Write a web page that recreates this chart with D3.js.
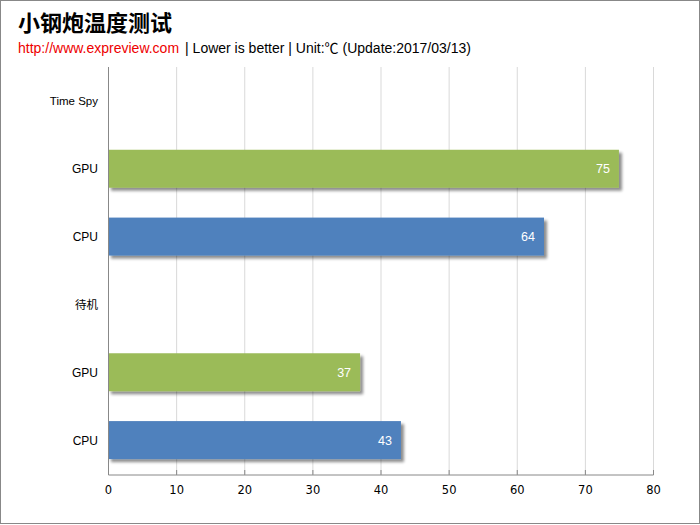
<!DOCTYPE html>
<html><head><meta charset="utf-8">
<script src="https://cdn.jsdelivr.net/npm/d3@7"></script>
<style>body{margin:0;background:#fff}</style>
</head><body>
<svg id="c" width="700" height="525"></svg>
<script>
const categories = ["Time Spy", "GPU", "CPU", "待机", "GPU", "CPU"];
const values = [null, 75, 64, null, 37, 43];
const kinds = ["header", "GPU", "CPU", "header", "GPU", "CPU"];
const xTicks = [0, 10, 20, 30, 40, 50, 60, 70, 80];
const colors = {GPU: "#9BBB59", CPU: "#4F81BD"};

const svg = d3.select("#c");
svg.append("rect").attr("x",0.5).attr("y",0.5).attr("width",699).attr("height",523)
  .attr("fill","#fff").attr("stroke","#888");

const defs = svg.append("defs");
const f = defs.append("filter").attr("id","sh").attr("x","-5%").attr("y","-20%").attr("width","115%").attr("height","160%");
f.append("feGaussianBlur").attr("in","SourceAlpha").attr("stdDeviation",1.5).attr("result","b");
f.append("feOffset").attr("in","b").attr("dx",3).attr("dy",3).attr("result","o");
f.append("feComponentTransfer").attr("in","o").attr("result","o2").append("feFuncA").attr("type","linear").attr("slope",0.45);
const m = f.append("feMerge"); m.append("feMergeNode").attr("in","o2"); m.append("feMergeNode").attr("in","SourceGraphic");

const L = 108, R = 653, T = 67, B = 474;
const x = d3.scaleLinear().domain([0,80]).range([L,R]);
const y = d3.scaleBand().domain(d3.range(categories.length)).range([T,B]).paddingInner(0.44).paddingOuter(0.22);

// grid
svg.append("g").selectAll("line").data(xTicks.slice(1)).join("line")
  .attr("x1",d=>x(d)+0.5).attr("x2",d=>x(d)+0.5).attr("y1",T).attr("y2",B)
  .attr("stroke","#d9d9d9");

// bars
const idx = d3.range(categories.length).filter(i=>values[i]!=null);
svg.append("g").selectAll("rect").data(idx).join("rect")
  .attr("x",L).attr("y",i=>y(i)).attr("width",i=>x(values[i])-L).attr("height",y.bandwidth())
  .attr("fill",i=>colors[kinds[i]]).attr("filter","url(#sh)");

svg.append("g").selectAll("text").data(idx).join("text")
  .attr("x",i=>x(values[i])-9).attr("y",i=>y(i)+y.bandwidth()/2+4.5)
  .attr("text-anchor","end").attr("fill","#fff")
  .attr("font-family","Liberation Sans, Arial, sans-serif").attr("font-size",12.5)
  .text(i=>values[i]);

// axes
const xa = svg.append("g").attr("transform",`translate(0,${B+0.5})`)
  .call(d3.axisBottom(x).tickValues(xTicks).tickSize(0).tickPadding(11));
xa.select(".domain").attr("stroke","#888");
xa.selectAll("text").attr("font-family","DejaVu Sans, Verdana, sans-serif").attr("font-size",11.5).attr("fill","#000");
svg.append("g").selectAll("line").data(xTicks).join("line")
  .attr("x1",d=>x(d)+0.5).attr("x2",d=>x(d)+0.5).attr("y1",B-4).attr("y2",B+1).attr("stroke","#888");

svg.append("line").attr("x1",L+0.5).attr("x2",L+0.5).attr("y1",T).attr("y2",B+1).attr("stroke","#888");

svg.append("g").selectAll("text").data(categories).join("text")
  .attr("x",98).attr("y",(d,i)=>y(i)+y.bandwidth()/2+4.5).attr("text-anchor","end")
  .attr("font-family","Liberation Sans, Arial, Noto Sans CJK SC, sans-serif")
  .attr("font-size",(d,i)=>kinds[i]==="header"?11.5:12).attr("fill","#000").text(d=>d);

// titles
svg.append("text").attr("x",18).attr("y",31).attr("font-family","Noto Sans CJK SC, sans-serif")
  .attr("font-weight","bold").attr("font-size",22).attr("fill","#000").text("小钢炮温度测试");
const st = svg.append("text").attr("x",18).attr("y",53).attr("font-family","Liberation Sans, Arial, Noto Sans CJK SC, sans-serif").attr("font-size",14);
st.append("tspan").attr("fill","#e00").text("http://www.expreview.com");
st.append("tspan").attr("fill","#000").attr("dx",6).text("| Lower is better | Unit:℃ (Update:2017/03/13)");
</script>
</body></html>
